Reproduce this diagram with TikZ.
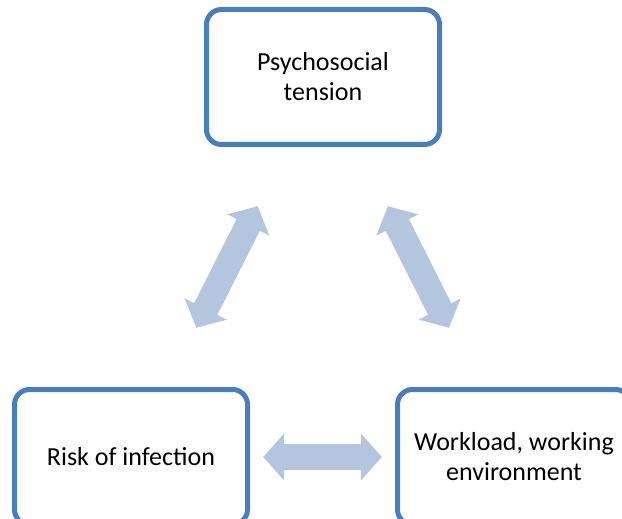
\documentclass[tikz,border=0pt]{standalone}
\usepackage{fontspec}
\setmainfont{Carlito}
\usepackage{tikz}
\usetikzlibrary{arrows.meta,calc}
\definecolor{boxblue}{RGB}{74,126,187}
\definecolor{arrowblue}{RGB}{180,197,222}
\tikzset{
    factor/.style={draw=boxblue, line width=5pt, rectangle, fill=white, minimum width=233pt, minimum height=135pt, rounded corners=15pt, align=center, font=\fontsize{26}{30}\selectfont},
    link/.style={draw=arrowblue, line width=26pt, arrows={Triangle[width=46pt,length=21pt]-Triangle[width=46pt,length=21pt]}}
}
\begin{document}
\begin{tikzpicture}[x=1pt, y=-1pt]
        \useasboundingbox (0,0) rectangle (622,519);

        % Factors
        \node[factor] (tension) at (323,77) {Psychosocial\\tension};
        \node[factor] (risk) at (131,457) {Risk of infection};
        \node[factor] (work) at (514,457) {Workload, working\\environment};

        % Mutual influence
        \draw[link] ($(risk.center)!0.34!(tension.center)$) -- ($(risk.center)!0.66!(tension.center)$);
        \draw[link] ($(tension.center)!0.34!(work.center)$) -- ($(tension.center)!0.66!(work.center)$);
        \draw[link] ($(risk.center)!0.345!(work.center)$) -- ($(risk.center)!0.655!(work.center)$);
    \end{tikzpicture}
\end{document}
